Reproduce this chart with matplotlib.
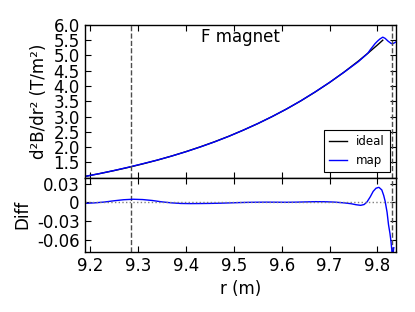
import matplotlib
matplotlib.use("Agg")
import matplotlib.pyplot as plt

# ideal second derivative of the field
r_ideal = [9.19, 9.22, 9.25, 9.28, 9.31, 9.34, 9.37, 9.40, 9.43, 9.46, 9.49,
           9.52, 9.55, 9.58, 9.61, 9.64, 9.67, 9.70, 9.73, 9.76, 9.78, 9.80, 9.811]
ideal = [1.038, 1.128, 1.226, 1.331, 1.446, 1.568, 1.702, 1.847, 2.004, 2.172, 2.354,
         2.553, 2.766, 2.996, 3.244, 3.512, 3.803, 4.115, 4.452, 4.815, 5.074, 5.345, 5.50]

# field map
r_map = [9.19, 9.22, 9.25, 9.28, 9.31, 9.34, 9.37, 9.40, 9.43, 9.46, 9.49,
         9.52, 9.55, 9.58, 9.61, 9.64, 9.67, 9.70, 9.73, 9.76, 9.78, 9.785,
         9.79, 9.795, 9.80, 9.805, 9.811, 9.816, 9.822, 9.828, 9.831, 9.835, 9.838]
bmap = [1.036, 1.129, 1.229, 1.337, 1.452, 1.570, 1.701, 1.844, 2.000, 2.168, 2.352,
        2.553, 2.766, 2.997, 3.244, 3.514, 3.807, 4.116, 4.449, 4.796, 5.076, 5.19,
        5.29, 5.39, 5.47, 5.54, 5.60, 5.56, 5.47, 5.40, 5.38, 5.41, 5.44]

# relative difference
r_diff = [9.19, 9.21, 9.23, 9.25, 9.27, 9.29, 9.31, 9.33, 9.35, 9.37, 9.39, 9.41,
          9.43, 9.45, 9.47, 9.49, 9.51, 9.53, 9.55, 9.57, 9.59, 9.61, 9.63, 9.65,
          9.67, 9.69, 9.71, 9.73, 9.745, 9.755, 9.765, 9.772, 9.778, 9.785, 9.791,
          9.797, 9.803, 9.809, 9.813, 9.816, 9.820, 9.823, 9.826, 9.828, 9.830,
          9.8315, 9.834]
diff = [-0.0016, -0.0008, 0.0005, 0.0025, 0.0042, 0.0050, 0.0045, 0.0030, 0.0008,
        -0.0008, -0.0018, -0.0020, -0.0019, -0.0017, -0.0014, -0.0009, -0.0004, 0.0,
        0.0002, 0.0003, 0.0002, 0.0001, 0.0003, 0.0007, 0.0011, 0.0010, 0.0004,
        -0.0008, -0.0022, -0.0038, -0.0048, -0.0035, 0.0005, 0.009, 0.0177, 0.0228,
        0.0242, 0.0200, 0.011, 0.0016, -0.016, -0.036, -0.050, -0.062, -0.078,
        -0.088, -0.073]

edges = [9.2856, 9.830]

top_yticks = [1.5, 2.0, 2.5, 3.0, 3.5, 4.0, 4.5, 5.0, 5.5, 6.0]
diff_yticks = [0.03, 0.0, -0.03, -0.06]
diff_ylabels = ["0.03", "0", "-0.03", "-0.06"]
xticks = [9.2, 9.3, 9.4, 9.5, 9.6, 9.7, 9.8]

plt.rcParams.update({
    "font.size": 12,
    "xtick.direction": "in",
    "ytick.direction": "in",
    "xtick.top": True,
    "ytick.right": True,
    "xtick.major.size": 4,
    "ytick.major.size": 4,
    "axes.linewidth": 1.0,
})

fig = plt.figure(figsize=(4.15, 3.12), dpi=100)
ax1 = fig.add_axes([0.204, 0.431, 0.7495, 0.489])
ax2 = fig.add_axes([0.204, 0.1923, 0.7495, 0.2387], sharex=ax1)

ax1.plot(r_ideal, ideal, color="k", lw=1.0, label="ideal")
ax1.plot(r_map, bmap, color="b", lw=1.0, label="map")
for e in edges:
    ax1.axvline(e, color="0.3", ls="--", lw=1.0)
    ax2.axvline(e, color="0.3", ls="--", lw=1.0)
ax1.set_ylim(1.0, 6.0)
ax1.set_yticks(top_yticks)
ax1.set_yticklabels(["%.1f" % t for t in top_yticks])
ax1.set_ylabel("d²B/dr² (T/m²)")
ax1.text(0.5, 0.92, "F magnet", transform=ax1.transAxes, ha="center", va="center",
         fontsize=12)
ax1.tick_params(labelbottom=False)
leg = ax1.legend(loc="lower right", fontsize=8.5, fancybox=False, framealpha=1,
                 edgecolor="k", handlelength=1.5, borderaxespad=0.5)
leg.get_frame().set_linewidth(0.8)

ax2.plot(r_diff, diff, color="b", lw=1.0)
ax2.axhline(0, color="0.5", ls=":", lw=1.0)
ax2.set_ylim(-0.08, 0.04)
ax2.set_yticks(diff_yticks)
ax2.set_yticklabels(diff_ylabels)
ax2.set_ylabel("Diff")
ax2.set_xticks(xticks)
ax2.set_xticklabels(["%.1f" % t for t in xticks])
ax2.set_xlim(9.189, 9.838)
ax2.set_xlabel("r (m)")

fig.savefig("out.png", dpi=100)
